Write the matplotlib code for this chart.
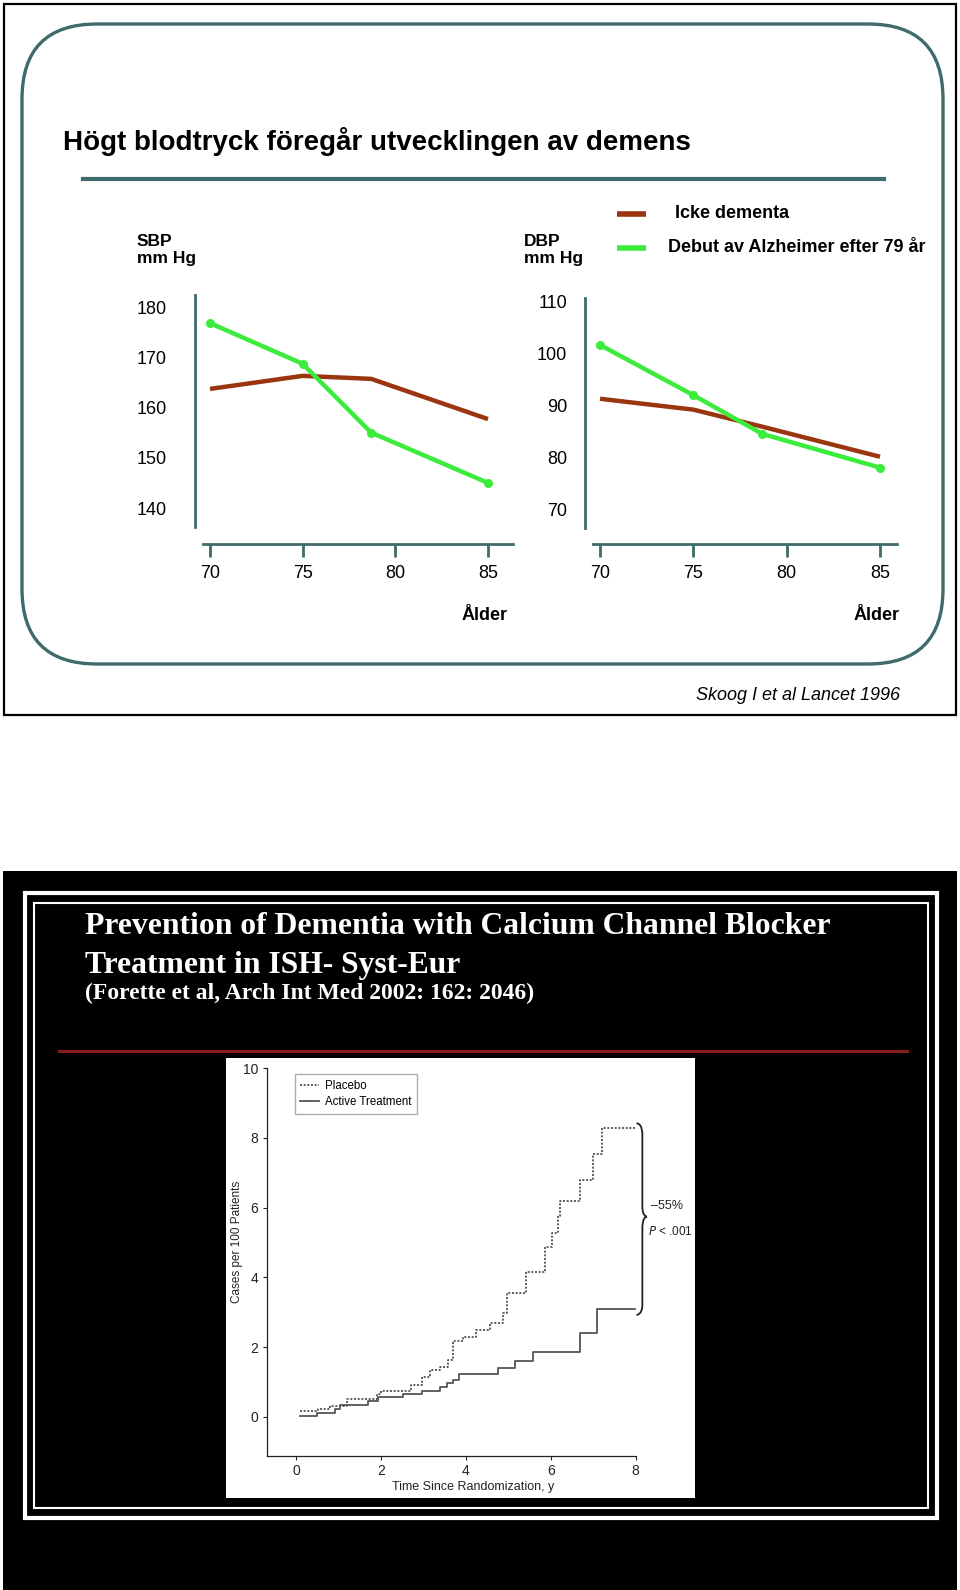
import numpy as np
import matplotlib
matplotlib.use("Agg")
import matplotlib.pyplot as plt
import matplotlib.font_manager as fm
from matplotlib.patches import FancyBboxPatch, Rectangle, PathPatch
from matplotlib.path import Path

# ---- data: top slide (Skoog et al.) ----
sbp_age = [70, 75, 78.7, 85]
sbp_icke = [163.7, 166.3, 165.7, 157.7]
sbp_alz = [176.8, 168.7, 155.0, 145.0]
dbp_age = [70, 75, 78.7, 85]
dbp_icke = [91.3, 89.2, 85.9, 80.1]
dbp_alz = [101.7, 92.0, 84.5, 78.0]
sbp_ticks = [180, 170, 160, 150, 140]
dbp_ticks = [110, 100, 90, 80, 70]
age_ticks = [70, 75, 80, 85]

# ---- data: bottom slide (Syst-Eur) ----
act_t = [0.09, 0.49, 0.92, 1.04, 1.70, 1.94, 2.53, 2.98, 3.39, 3.55, 3.71, 3.85,
         4.75, 5.16, 5.59, 6.70, 7.10, 7.98]
act_y = [0.03, 0.11, 0.22, 0.35, 0.45, 0.57, 0.65, 0.75, 0.84, 0.96, 1.05, 1.22,
         1.39, 1.60, 1.85, 2.39, 3.08, 3.08]
plac_t = [0.09, 0.53, 0.80, 1.19, 1.90, 2.00, 2.72, 2.96, 3.15, 3.39, 3.59, 3.71,
          3.94, 4.25, 4.57, 4.88, 4.96, 5.43, 5.86, 6.02, 6.18, 6.23, 6.69, 7.00,
          7.20, 7.98]
plac_y = [0.17, 0.22, 0.32, 0.51, 0.64, 0.75, 0.91, 1.13, 1.34, 1.44, 1.63, 2.18,
          2.30, 2.49, 2.68, 2.97, 3.54, 4.16, 4.86, 5.26, 5.76, 6.20, 6.78, 7.53,
          8.30, 8.30]

names = {f.name for f in fm.fontManager.ttflist}
NARROW = 'Liberation Sans Narrow' if 'Liberation Sans Narrow' in names else 'Liberation Sans'
SERIF = 'Liberation Serif'

BROWN = '#9a3510'
GREEN = '#3cec3c'
TEAL = '#3f6b6b'

W, H = 960, 1590
fig = plt.figure(figsize=(W / 100, H / 100), dpi=100)
fig.patch.set_facecolor('white')

# background axes in pixel coords
bg = fig.add_axes([0, 0, 1, 1])
bg.set_xlim(0, W)
bg.set_ylim(H, 0)
bg.axis('off')


def px_axes(x0, y0, x1, y1):
    return fig.add_axes([x0 / W, 1 - y1 / H, (x1 - x0) / W, (y1 - y0) / H])


# ---------------- top slide ----------------
bg.add_patch(Rectangle((4, 4), 952, 711, fill=False, ec='black', lw=1.6))
bg.add_patch(FancyBboxPatch((22, 24), 921, 640, boxstyle='round,pad=0,rounding_size=75',
                            fill=False, ec=TEAL, lw=2.4))
bg.text(63, 142, 'Högt blodtryck föregår utvecklingen av demens', family=NARROW,
        weight='bold', fontsize=20, va='center', ha='left')
bg.plot([83, 884], [179, 179], color=TEAL, lw=3)

bg.plot([617, 646], [214, 214], color=BROWN, lw=4, solid_capstyle='butt')
bg.plot([617, 646], [248, 248], color=GREEN, lw=4, solid_capstyle='butt')
bg.text(675, 214, 'Icke dementa', family=NARROW, weight='bold', fontsize=13, va='center')
bg.text(668, 248, 'Debut av Alzheimer efter 79 år', family=NARROW, weight='bold',
        fontsize=13, va='center')
bg.text(137, 250, 'SBP\nmm Hg', family=NARROW, weight='bold', fontsize=12.5,
        va='center', linespacing=1.1)
bg.text(524, 250, 'DBP\nmm Hg', family=NARROW, weight='bold', fontsize=12.5,
        va='center', linespacing=1.1)
bg.text(485, 616, 'Ålder', family=NARROW, weight='bold', fontsize=13, ha='center', va='center')
bg.text(877, 616, 'Ålder', family=NARROW, weight='bold', fontsize=13, ha='center', va='center')
bg.text(900, 695, 'Skoog I et al Lancet 1996', family=NARROW, style='italic',
        fontsize=13, ha='right', va='center')


def bp_panel(ax, age, icke, alz, yticks, xlim, ylim, ybound, xbound, ypad):
    ax.set_facecolor('none')
    ax.plot(age, icke, color=BROWN, lw=3.2, solid_capstyle='butt')
    ax.plot(age, alz, color=GREEN, lw=3.2, marker='o', markersize=5.5,
            solid_capstyle='butt')
    ax.set_xlim(*xlim)
    ax.set_ylim(*ylim)
    for s in ['top', 'right']:
        ax.spines[s].set_visible(False)
    ax.spines['left'].set_bounds(*ybound)
    ax.spines['bottom'].set_bounds(*xbound)
    for s in ['left', 'bottom']:
        ax.spines[s].set_color(TEAL)
        ax.spines[s].set_linewidth(2)
    ax.set_yticks(yticks)
    ax.set_xticks(age_ticks)
    ax.tick_params(axis='y', length=0, pad=ypad, labelsize=13)
    ax.tick_params(axis='x', length=9, width=2, color=TEAL, pad=6, labelsize=13)
    for lab in ax.get_xticklabels() + ax.get_yticklabels():
        lab.set_family(NARROW)


ax1 = px_axes(194.5, 295, 513, 544)
bp_panel(ax1, sbp_age, sbp_icke, sbp_alz, sbp_ticks, (69.164, 86.35), (132.84, 182.39),
         (136.2, 182.39), (69.6, 86.35), 20)
ax2 = px_axes(584.6, 298, 897, 544)
bp_panel(ax2, dbp_age, dbp_icke, dbp_alz, dbp_ticks, (69.175, 85.91), (63.24, 110.77),
         (66.33, 110.77), (69.6, 85.91), 12.5)

# ---------------- bottom slide ----------------
bg.add_patch(Rectangle((3, 871), 954, 719, color='black', lw=0))
bg.add_patch(Rectangle((25, 893), 912, 625, fill=False, ec='white', lw=3))
bg.add_patch(Rectangle((34, 903), 894, 605, fill=False, ec='white', lw=1.5))
bg.text(85, 926, 'Prevention of Dementia with Calcium Channel Blocker', family=SERIF,
        weight='bold', fontsize=22.8, color='white', va='center')
bg.text(85, 965, 'Treatment in ISH- Syst-Eur', family=SERIF, weight='bold',
        fontsize=22.8, color='white', va='center')
bg.text(85, 993, '(Forette et al, Arch Int Med 2002: 162: 2046)', family=SERIF,
        weight='bold', fontsize=17, color='white', va='center')
bg.plot([59, 907], [1051, 1051], color='#8b1a1a', lw=2.2)
bg.add_patch(Rectangle((226, 1058), 469, 440, color='white', lw=0))

ax3 = px_axes(266.7, 1068.3, 636, 1456)
ax3.set_facecolor('none')
ax3.step(plac_t, plac_y, where='post', color='#444444', lw=1.2, ls=(0, (1.2, 1.0)),
         label='Placebo')
ax3.step(act_t, act_y, where='post', color='#555555', lw=1.3, label='Active Treatment')
ax3.set_xlim(-0.69, 8.01)
ax3.set_ylim(-1.128, 10.0)
ax3.set_xticks([0, 2, 4, 6, 8])
ax3.set_yticks([0, 2, 4, 6, 8, 10])
for s in ['top', 'right']:
    ax3.spines[s].set_visible(False)
for s in ['left', 'bottom']:
    ax3.spines[s].set_linewidth(0.9)
    ax3.spines[s].set_color('#222222')
ax3.tick_params(length=3, width=0.8, labelsize=10, pad=3, colors='#222222')
for lab in ax3.get_xticklabels() + ax3.get_yticklabels():
    lab.set_family(NARROW)
ax3.set_xlabel('Time Since Randomization, y', family=NARROW, fontsize=9,
               color='#222222')
ax3.set_ylabel('Cases per 100 Patients', family=NARROW, fontsize=8.5,
               color='#222222')
ax3.xaxis.set_label_coords(0.559, -0.064)
ax3.yaxis.set_label_coords(-0.064, 0.553)
leg = ax3.legend(loc='upper left', bbox_to_anchor=(0.06, 1.0), prop={'family': NARROW, 'size': 8.3},
                 frameon=True, fancybox=False, handlelength=1.6, borderpad=0.5,
                 labelspacing=0.35, handletextpad=0.5)
leg.get_frame().set_edgecolor('#999999')
leg.get_frame().set_linewidth(1.0)

# brace on the right
x0, xb, xt = 8.02, 8.16, 8.27
ytop, ybot, ym, d = 8.42, 2.92, 5.74, 0.3
verts = [(x0, ytop), (xb, ytop), (xb, ytop - d), (xb, ytop - d),
         (xb, ym + d),
         (xb, ym), (xt, ym), (xt, ym),
         (xb, ym), (xb, ym - d), (xb, ym - d),
         (xb, ybot + d),
         (xb, ybot), (x0, ybot), (x0, ybot)]
codes = [Path.MOVETO, Path.CURVE4, Path.CURVE4, Path.CURVE4,
         Path.LINETO,
         Path.CURVE4, Path.CURVE4, Path.CURVE4,
         Path.CURVE4, Path.CURVE4, Path.CURVE4,
         Path.LINETO,
         Path.CURVE4, Path.CURVE4, Path.CURVE4]
ax3.add_patch(PathPatch(Path(verts, codes), fill=False, ec='#222222', lw=1.3, clip_on=False))
ax3.text(8.36, 6.06, '–55%', family=NARROW, fontsize=9, va='center', ha='left',
         color='#222222', clip_on=False)
ax3.text(8.29, 5.31, '$P$ < .001', family=NARROW, fontsize=8.5, va='center', ha='left',
         color='#222222', clip_on=False)

fig.savefig('out.png', dpi=100)
